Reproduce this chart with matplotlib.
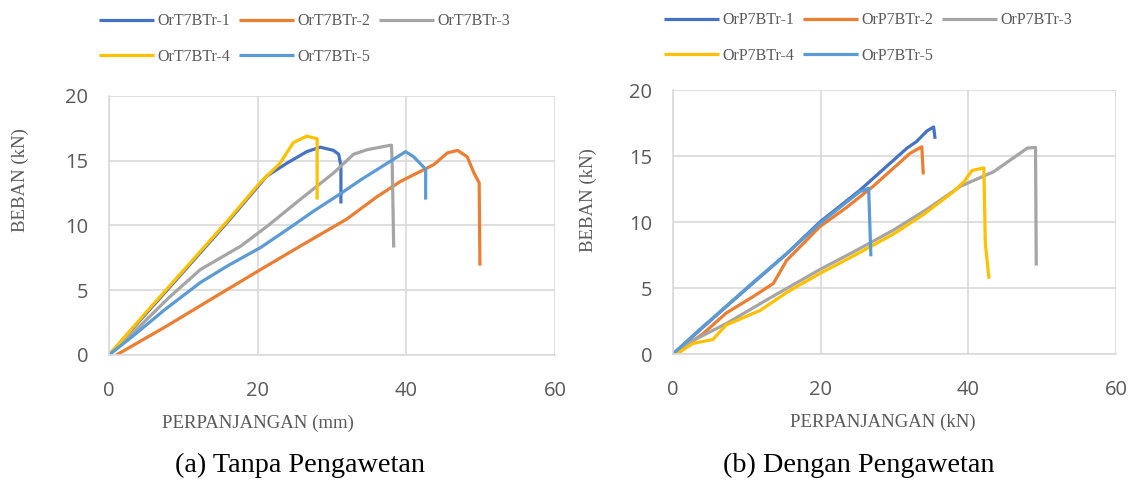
import matplotlib
matplotlib.use("Agg")
import matplotlib.pyplot as plt

# ---- data: left panel (a) Tanpa Pengawetan ----
a_labels = ["OrT7BTr-1", "OrT7BTr-2", "OrT7BTr-3", "OrT7BTr-4", "OrT7BTr-5"]
a1_x = [0, 5, 10.9, 16, 21.2, 23.9, 26.6, 28.4, 30.2, 30.9, 31.2, 31.2]
a1_y = [0, 3.2, 7.0, 10.3, 13.8, 14.8, 15.7, 16.05, 15.8, 15.5, 14.6, 11.7]
a2_x = [1.0, 7.8, 14, 20.4, 26, 32.0, 36, 39.2, 43.7, 45.5, 46.9, 48.2, 49.1, 49.8, 49.9]
a2_y = [0, 2.25, 4.4, 6.6, 8.5, 10.5, 12.2, 13.4, 14.7, 15.6, 15.8, 15.3, 14.05, 13.3, 6.9]
a3_x = [0, 3.3, 8, 12.3, 17.7, 21.3, 25.7, 30.2, 32.9, 34.7, 37.4, 38.0, 38.1, 38.3]
a3_y = [0, 1.74, 4.4, 6.6, 8.4, 9.95, 12.0, 14.05, 15.5, 15.85, 16.15, 16.2, 14.8, 8.3]
a4_x = [0, 5, 10.9, 16, 20.3, 23.0, 24.8, 26.6, 28.0, 28.0]
a4_y = [0, 3.3, 7.1, 10.4, 13.3, 14.8, 16.4, 16.9, 16.7, 12.0]
a5_x = [0, 3.3, 7.5, 12.3, 16, 20.4, 24, 27.5, 31, 33.8, 37.4, 39.9, 41.0, 42.6, 42.6]
a5_y = [0, 1.5, 3.5, 5.6, 6.9, 8.3, 9.7, 11.1, 12.4, 13.5, 14.8, 15.7, 15.3, 14.35, 12.0]

# ---- data: right panel (b) Dengan Pengawetan ----
b_labels = ["OrP7BTr-1", "OrP7BTr-2", "OrP7BTr-3", "OrP7BTr-4", "OrP7BTr-5"]
b1_x = [0, 7.2, 15.4, 19.9, 25.3, 31.7, 33.0, 34.4, 35.3, 35.5]
b1_y = [0, 3.6, 7.6, 10.0, 12.4, 15.6, 16.1, 16.9, 17.2, 16.3]
b2_x = [0, 4, 7.2, 11, 13.6, 15.4, 19.9, 23.5, 27.1, 32.1, 33.7, 33.9]
b2_y = [0, 1.5, 3.1, 4.4, 5.35, 7.1, 9.65, 11.1, 12.7, 15.2, 15.7, 13.6]
b3_x = [0, 3, 7.2, 13, 19.9, 25, 29.9, 34.5, 38.9, 43.4, 48.0, 49.1, 49.2]
b3_y = [0, 1.1, 2.3, 4.2, 6.4, 7.9, 9.4, 11.0, 12.7, 13.8, 15.6, 15.65, 6.7]
b4_x = [0.5, 2.7, 5.4, 7.2, 11.8, 15.5, 19.9, 25, 29.9, 34, 38.0, 39.4, 40.5, 42.1, 42.3, 42.8]
b4_y = [0, 0.8, 1.1, 2.2, 3.3, 4.7, 6.1, 7.6, 9.1, 10.6, 12.3, 13.05, 13.9, 14.1, 8.4, 5.7]
b5_x = [0, 3.5, 7.2, 11, 15.4, 19.9, 25.3, 26.5, 26.8]
b5_y = [0, 1.8, 3.6, 5.5, 7.6, 9.9, 12.3, 12.55, 7.4]

colors = ["#4472C4", "#ED7D31", "#A5A5A5", "#FFC000", "#5B9BD5"]
xticks = [0, 20, 40, 60]
yticks = [0, 5, 10, 15, 20]

serif = ["Liberation Serif", "DejaVu Serif"]
sans = ["Open Sans", "DejaVu Sans"]
tick_color = "#595959"
grid_color = "#D9D9D9"

fig = plt.figure(figsize=(11.35, 4.83), dpi=100)

def style(ax):
    ax.set_xlim(0, 60)
    ax.set_ylim(0, 20)
    ax.set_xticks(xticks)
    ax.set_yticks(yticks)
    ax.grid(True, color=grid_color, linewidth=1.2)
    ax.set_axisbelow(True)
    for s in ["top", "right"]:
        ax.spines[s].set_visible(False)
    for s in ["left", "bottom"]:
        ax.spines[s].set_color(grid_color)
        ax.spines[s].set_linewidth(1.2)
    ax.tick_params(length=0, labelsize=14.5, colors=tick_color)
    ax.tick_params(axis="x", pad=19)
    ax.tick_params(axis="y", pad=15)
    for lab in ax.get_xticklabels() + ax.get_yticklabels():
        lab.set_family(sans)

axA = fig.add_axes([109/1135, 1-355/483, 446/1135, 259/483])
axB = fig.add_axes([673/1135, 1-354/483, 443/1135, 264/483])

a_series = [(a1_x, a1_y), (a2_x, a2_y), (a3_x, a3_y), (a4_x, a4_y), (a5_x, a5_y)]
b_series = [(b1_x, b1_y), (b2_x, b2_y), (b3_x, b3_y), (b4_x, b4_y), (b5_x, b5_y)]

for ax, series, labels in [(axA, a_series, a_labels), (axB, b_series, b_labels)]:
    style(ax)
    for (x, y), c, lab in zip(series, colors, labels):
        ax.plot(x, y, color=c, linewidth=2.3, label=lab, solid_capstyle="butt")

leg_kw = dict(ncol=3, frameon=False, handlelength=3.4, handletextpad=0.25,
              columnspacing=0.55, labelspacing=1.2, borderaxespad=0,
              prop={"family": serif, "size": 11.5}, labelcolor=tick_color)
order = [0, 3, 1, 4, 2]  # row-wise fill like the reference
hA, lA = axA.get_legend_handles_labels()
fig.legend([hA[i] for i in order], [lA[i] for i in order], loc="upper left",
           bbox_to_anchor=(93/1135, 1-7/483), **leg_kw)
hB, lB = axB.get_legend_handles_labels()
fig.legend([hB[i] for i in order], [lB[i] for i in order], loc="upper left",
           bbox_to_anchor=(658/1135, 1-6/483), **leg_kw)

# axis labels
fig.text(20/1135, 1-180/483, "BEBAN (kN)", rotation=90, ha="center", va="center",
         family=serif, size=13.5, color=tick_color)
fig.text(588/1135, 1-200/483, "BEBAN (kN)", rotation=90, ha="center", va="center",
         family=serif, size=13.5, color=tick_color)
fig.text(258/1135, 1-423/483, "PERPANJANGAN (mm)", ha="center", va="center",
         family=serif, size=13.5, color=tick_color)
fig.text(883/1135, 1-422/483, "PERPANJANGAN (kN)", ha="center", va="center",
         family=serif, size=13.5, color=tick_color)

# captions
fig.text(300/1135, 1-465/483, "(a) Tanpa Pengawetan", ha="center", va="center",
         family=serif, size=20.3, color="black")
fig.text(859/1135, 1-465/483, "(b) Dengan Pengawetan", ha="center", va="center",
         family=serif, size=20.3, color="black")

fig.savefig("out.png", dpi=100)
